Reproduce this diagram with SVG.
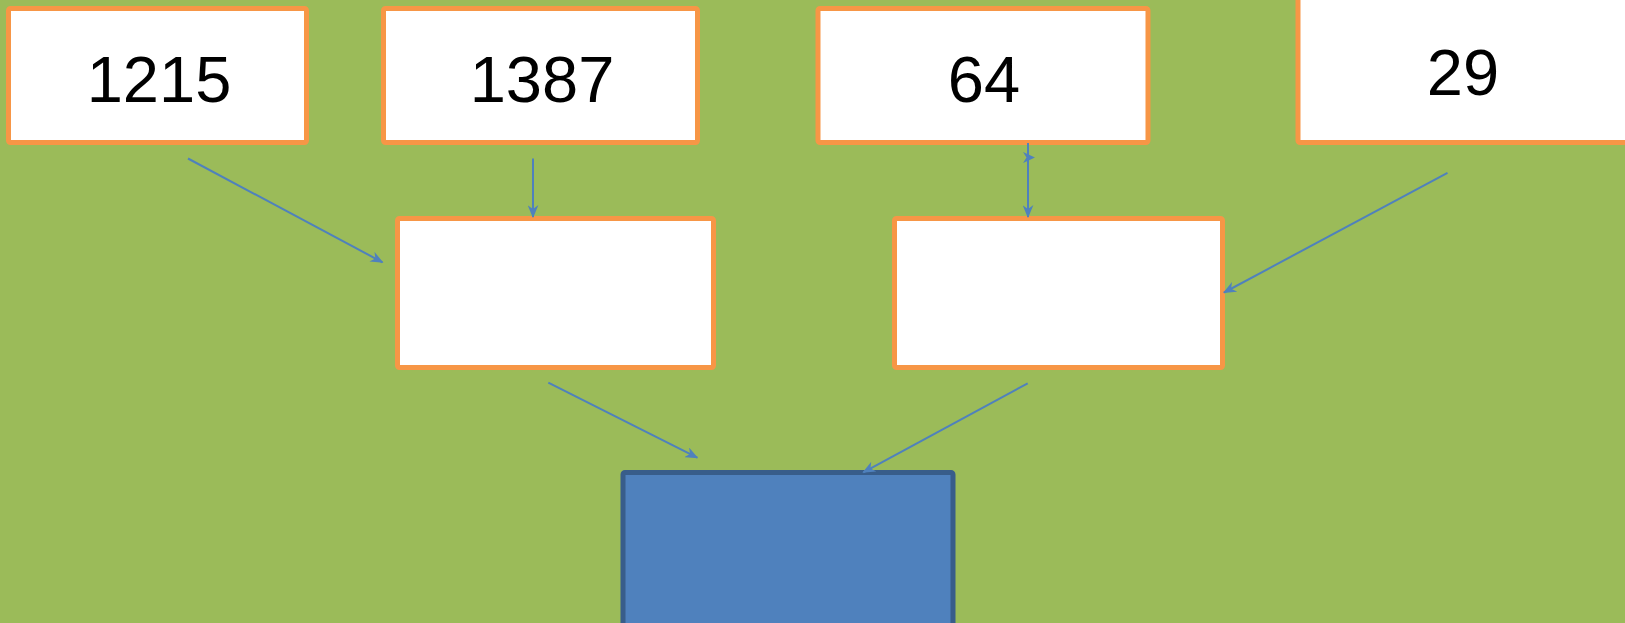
<svg xmlns="http://www.w3.org/2000/svg" width="1625" height="623" viewBox="0 0 1625 623">
  <defs>
    <marker id="arr" viewBox="0 0 12 10" refX="11" refY="5" markerWidth="13" markerHeight="11" markerUnits="userSpaceOnUse" orient="auto">
      <path d="M0,0 L12,5 L0,10 L3.5,5 Z" fill="#4F81BD"/>
    </marker>
  </defs>
  <style>
    .box { fill: #FFFFFF; stroke: #F79646; stroke-width: 5; }
    .blue { fill: #4F81BD; stroke: #385D8A; stroke-width: 5; }
    .num { font-family: "Liberation Sans", Arial, sans-serif; font-size: 65px; fill: #000000; text-anchor: middle; }
    .conn { stroke: #4F81BD; stroke-width: 2; fill: none; marker-end: url(#arr); }
  </style>
  <rect x="0" y="0" width="1625" height="623" fill="#9BBB59"/>

  <g id="node-1215">
    <rect class="box" x="8.5" y="8.5" width="298" height="134" rx="2"/>
    <text class="num" x="159" y="102">1215</text>
  </g>
  <g id="node-1387">
    <rect class="box" x="383.5" y="8.5" width="314" height="134" rx="2"/>
    <text class="num" x="542" y="102">1387</text>
  </g>
  <g id="node-64">
    <rect class="box" x="818" y="8.5" width="330" height="134" rx="2"/>
    <text class="num" x="984" y="102">64</text>
  </g>
  <g id="node-29">
    <rect class="box" x="1298" y="-20" width="400" height="162.5" rx="2"/>
    <text class="num" x="1463" y="95">29</text>
  </g>
  <g id="node-mid-left">
    <rect class="box" x="397.5" y="218.5" width="316" height="149" rx="2"/>
  </g>
  <g id="node-mid-right">
    <rect class="box" x="894.5" y="218.5" width="328" height="149" rx="2"/>
  </g>
  <g id="node-bottom">
    <rect class="blue" x="623" y="472.5" width="330" height="200" rx="2"/>
  </g>

  <g id="connectors">
    <line class="conn" x1="188" y1="158.5" x2="382.5" y2="262.3"/>
    <line class="conn" x1="533" y1="158.5" x2="533" y2="217"/>
    <line class="conn" x1="1028" y1="143" x2="1028" y2="217"/>
    <path d="M1023,152 L1035,157.5 L1023,163 L1026.5,157.5 Z" fill="#4F81BD"/>
    <line class="conn" x1="1447.5" y1="172.8" x2="1224" y2="292.5"/>
    <line class="conn" x1="548.3" y1="382.7" x2="697.3" y2="457.7"/>
    <line class="conn" x1="1027.7" y1="383.3" x2="863.3" y2="472.3"/>
  </g>
</svg>
